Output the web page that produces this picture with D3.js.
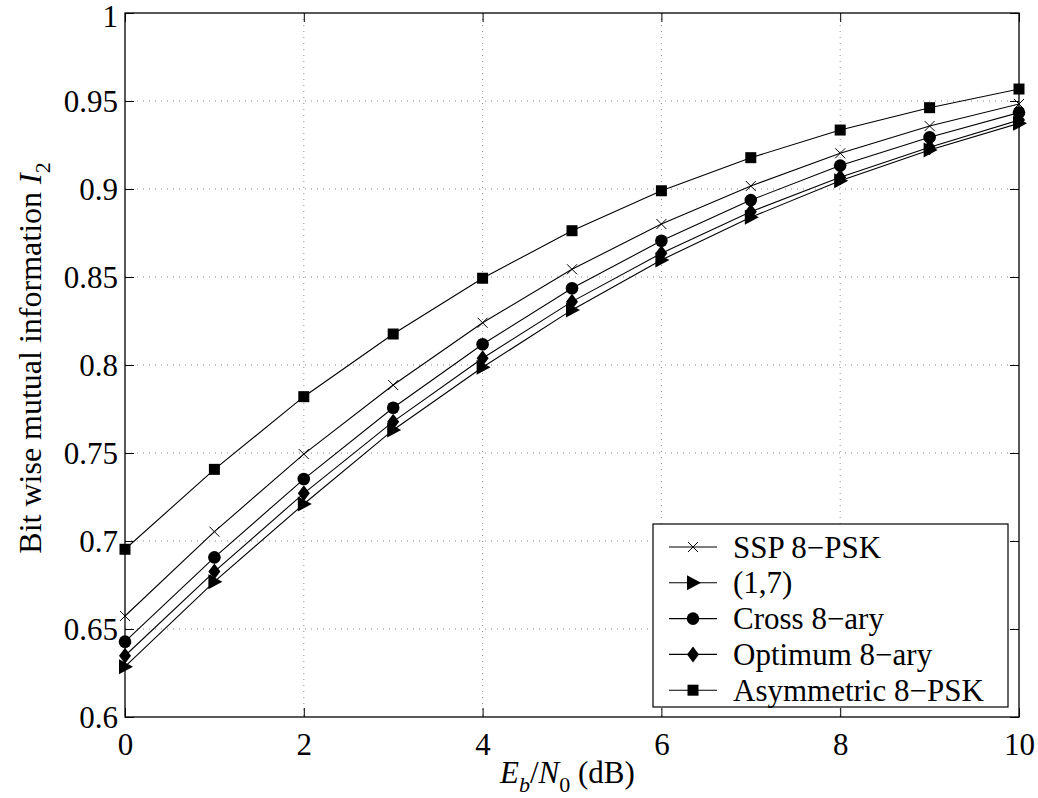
<!DOCTYPE html>
<html>
<head>
<meta charset="utf-8">
<script src="https://cdn.jsdelivr.net/npm/d3@7"></script>
<style>
  body { margin: 0; background: #fff; }
  text { font-family: "Liberation Serif", "Times New Roman", serif; fill: #000; }
</style>
</head>
<body>
<div id="chart"></div>
<script>
// data
var ebno = [0, 1, 2, 3, 4, 5, 6, 7, 8, 9, 10];
var ssp8psk   = [0.6574, 0.7053, 0.7494, 0.7886, 0.8240, 0.8544, 0.8801, 0.9017, 0.9203, 0.9358, 0.9483];
var code17    = [0.6286, 0.6769, 0.7210, 0.7631, 0.7987, 0.8313, 0.8597, 0.8839, 0.9047, 0.9222, 0.9373];
var cross8    = [0.6428, 0.6907, 0.7352, 0.7757, 0.8118, 0.8436, 0.8706, 0.8937, 0.9133, 0.9294, 0.9434];
var optimum8  = [0.6348, 0.6826, 0.7271, 0.7678, 0.8038, 0.8360, 0.8635, 0.8871, 0.9067, 0.9237, 0.9392];
var asym8psk  = [0.6953, 0.7407, 0.7820, 0.8176, 0.8493, 0.8763, 0.8990, 0.9178, 0.9335, 0.9462, 0.9568];
var seriesNames = ["SSP 8\u2212PSK", "(1,7)", "Cross 8\u2212ary", "Optimum 8\u2212ary", "Asymmetric 8\u2212PSK"];
var seriesMarks = ["cross", "triangle", "circle", "diamond", "square"];
var xTicks = [0, 2, 4, 6, 8, 10];
var yTicks = [0.6, 0.65, 0.7, 0.75, 0.8, 0.85, 0.9, 0.95, 1];

var series = [ssp8psk, code17, cross8, optimum8, asym8psk].map(function(vals, i){
  return {name: seriesNames[i], mark: seriesMarks[i],
          pts: vals.map(function(v, j){ return {x: ebno[j], y: v}; })};
});

var serif = "'Liberation Serif', 'Times New Roman', serif";
var width = 1038, height = 798;
var margin = {left: 125, top: 13, right: 19, bottom: 81};
var drawWidth = width - margin.left - margin.right;
var drawHeight = height - margin.top - margin.bottom;

var svg = d3.select("#chart").append("svg")
  .attr("width", width).attr("height", height);

var canvas = svg.append("g")
  .attr("transform", "translate(" + margin.left + "," + margin.top + ")");

var x = d3.scaleLinear().domain([0, 10]).range([0, drawWidth]);
var y = d3.scaleLinear().domain([0.6, 1]).range([drawHeight, 0]);

// grid
canvas.append("g").selectAll("line").data(xTicks.slice(1, -1)).enter().append("line")
  .attr("x1", function(d){ return x(d); }).attr("x2", function(d){ return x(d); })
  .attr("y1", 0).attr("y2", drawHeight)
  .attr("stroke", "#888").attr("stroke-width", 1).attr("stroke-dasharray", "1,5");
canvas.append("g").selectAll("line").data(yTicks.slice(1, -1)).enter().append("line")
  .attr("y1", function(d){ return y(d); }).attr("y2", function(d){ return y(d); })
  .attr("x1", 0).attr("x2", drawWidth)
  .attr("stroke", "#888").attr("stroke-width", 1).attr("stroke-dasharray", "1,5");

// axes (ticks inside, mirrored on opposite sides)
var tk = 9;
var xAx = canvas.append("g").attr("transform", "translate(0," + drawHeight + ")")
  .call(d3.axisBottom(x).tickValues(xTicks).tickSize(-tk).tickPadding(16).tickFormat(d3.format("d")));
var yAx = canvas.append("g")
  .call(d3.axisLeft(y).tickValues(yTicks).tickSize(-tk).tickPadding(7).tickFormat(function(d){ return d3.format("")(d); }));
canvas.append("g").call(d3.axisTop(x).tickValues(xTicks).tickSize(-tk).tickFormat(""));
canvas.append("g").attr("transform", "translate(" + drawWidth + ",0)")
  .call(d3.axisRight(y).tickValues(yTicks).tickSize(-tk).tickFormat(""));
canvas.selectAll(".domain").remove();
canvas.selectAll(".tick line").attr("stroke", "#000");
xAx.selectAll("text").style("font-size", "31px");
yAx.selectAll("text").style("font-size", "31px").attr("dy", function(d){ return d === 1 ? "0.42em" : "0.34em"; });

canvas.append("rect").attr("x", 0).attr("y", 0).attr("width", drawWidth).attr("height", drawHeight)
  .attr("fill", "none").attr("stroke", "#000").attr("stroke-width", 1.3);

// marker drawing
function drawMarker(g, type, cx, cy) {
  if (type === "cross") {
    g.append("path").attr("d", "M" + (cx-5) + "," + (cy-5) + "L" + (cx+5) + "," + (cy+5) + "M" + (cx-5) + "," + (cy+5) + "L" + (cx+5) + "," + (cy-5))
      .attr("stroke", "#000").attr("stroke-width", 1).attr("fill", "none");
  } else if (type === "triangle") {
    g.append("path").attr("d", "M" + (cx+8) + "," + cy + "L" + (cx-6) + "," + (cy-7.5) + "L" + (cx-6) + "," + (cy+7.5) + "Z")
      .attr("fill", "#000");
  } else if (type === "circle") {
    g.append("circle").attr("cx", cx).attr("cy", cy).attr("r", 6.3).attr("fill", "#000");
  } else if (type === "diamond") {
    g.append("path").attr("d", "M" + cx + "," + (cy-8) + "L" + (cx+6) + "," + cy + "L" + cx + "," + (cy+8) + "L" + (cx-6) + "," + cy + "Z")
      .attr("fill", "#000");
  } else if (type === "square") {
    g.append("rect").attr("x", cx-5.5).attr("y", cy-5.5).attr("width", 11).attr("height", 11).attr("fill", "#000");
  }
}

var line = d3.line().x(function(d){ return x(d.x); }).y(function(d){ return y(d.y); });

series.forEach(function(s){
  canvas.append("path").datum(s.pts).attr("d", line)
    .attr("fill", "none").attr("stroke", "#000").attr("stroke-width", 1.1);
});
series.forEach(function(s){
  var g = canvas.append("g");
  s.pts.forEach(function(p){ drawMarker(g, s.mark, x(p.x), y(p.y)); });
});

// legend
var lg = svg.append("g").attr("transform", "translate(653,524)");
lg.append("rect").attr("width", 355).attr("height", 183)
  .attr("fill", "#fff").attr("stroke", "#000").attr("stroke-width", 1.2);
series.forEach(function(s, i){
  var ly = 23 + i * 35.8;
  lg.append("line").attr("x1", 16).attr("x2", 64).attr("y1", ly).attr("y2", ly)
    .attr("stroke", "#000").attr("stroke-width", 1.1);
  drawMarker(lg, s.mark, 40, ly);
  lg.append("text").attr("x", 80).attr("y", ly).attr("dy", "0.34em")
    .style("font-size", "31px").text(s.name);
});

// axis labels
var xl = svg.append("text").attr("x", 500).attr("y", 783)
  .attr("text-anchor", "start").style("font-size", "31px");
xl.append("tspan").attr("font-style", "italic").text("E");
xl.append("tspan").attr("font-style", "italic").attr("dy", 9).style("font-size", "22px").text("b");
xl.append("tspan").attr("dy", -9).text("/");
xl.append("tspan").attr("font-style", "italic").text("N");
xl.append("tspan").attr("dy", 9).style("font-size", "22px").text("0");
xl.append("tspan").attr("dy", -9).text(" (dB)");

var yl = svg.append("text").attr("transform", "translate(41,358) rotate(-90)")
  .attr("text-anchor", "middle").style("font-size", "32px");
yl.append("tspan").text("Bit wise mutual information ");
yl.append("tspan").attr("font-style", "italic").text("I");
yl.append("tspan").attr("dy", 9).style("font-size", "22px").text("2");

svg.selectAll("text").style("font-family", serif);
</script>
</body>
</html>
